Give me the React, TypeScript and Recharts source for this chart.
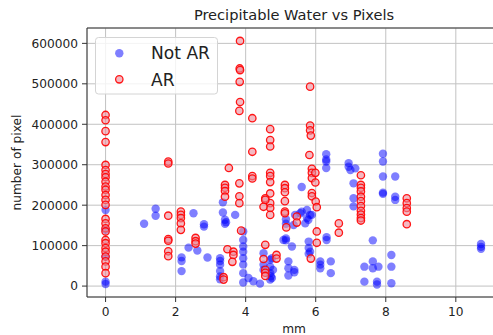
import React from "react";
import {
  ScatterChart,
  Scatter,
  XAxis,
  YAxis,
  CartesianGrid,
  ReferenceLine,
} from "recharts";

// [mm, number of pixel]
const notArPoints: [number, number][] = [
  [0, 188000], [0, 139000], [0, 73000], [0, 11000], [0, 5000],
  [1.1, 154000], [1.43, 191000], [1.43, 174000],
  [2.17, 71000], [2.17, 62000], [2.17, 37000],
  [2.37, 95000], [2.51, 180000], [2.62, 88000], [2.81, 153000], [2.81, 147000], [2.91, 70600],
  [3.27, 69000], [3.27, 62000], [3.27, 53000], [3.27, 37000], [3.27, 24000], [3.27, 17000],
  [3.35, 207000], [3.35, 182000], [3.41, 164000], [3.41, 154000], [3.44, 158000],
  [3.7, 176000],
  [3.93, 135000], [3.93, 114000], [3.93, 98000], [3.93, 85000], [3.93, 69000], [3.93, 53000], [3.93, 32000], [3.93, 9000],
  [4.08, 20000], [4.22, 12000], [4.41, 6000],
  [4.51, 81000], [4.51, 53000], [4.51, 40000],
  [4.7, 65000], [4.7, 48000], [4.7, 32000], [4.72, 24000], [4.7, 16000],
  [4.75, 69000], [4.75, 20000], [4.78, 40000],
  [5.08, 114000],
  [5.15, 165000], [5.15, 154000], [5.15, 118000], [5.15, 113000],
  [5.22, 61000], [5.22, 44000], [5.22, 26000],
  [5.32, 98000], [5.37, 151000], [5.39, 40000], [5.39, 34000],
  [5.6, 245000],
  [5.41, 176000], [5.56, 180000], [5.6, 184000], [5.75, 188000], [5.89, 176000],
  [5.79, 164000], [5.7, 155000], [5.84, 176000], [5.75, 168000],
  [5.8, 110000], [5.8, 94000], [5.84, 85000], [5.8, 80000],
  [6.13, 61000], [6.13, 53000], [6.13, 44000],
  [6.3, 326000], [6.3, 313000], [6.3, 308000], [6.3, 292000],
  [6.31, 121000], [6.31, 114000],
  [6.43, 61000], [6.43, 32000],
  [6.94, 304000], [6.94, 295000], [6.99, 287000], [7.13, 291000],
  [7.08, 254000], [7.08, 217000], [7.08, 197000],
  [7.39, 48000], [7.39, 11000],
  [7.63, 113000], [7.63, 61000], [7.63, 44000],
  [7.75, 11000], [7.75, 4000], [7.79, 48000],
  [7.92, 327000], [7.92, 308000], [7.92, 271000], [7.92, 231000], [7.92, 228000],
  [8.16, 77000], [8.16, 48000], [8.16, 7000],
  [8.27, 271000], [8.27, 221000], [8.27, 213000],
  [10.72, 104000], [10.72, 97000], [10.72, 92000],
];

const arPoints: [number, number][] = [
  [0, 423000], [0, 410000], [0, 383000], [0, 356000], [0, 299500], [0, 287000], [0, 277000],
  [0, 269000], [0, 258000], [0, 246000], [0, 238000], [0, 225000], [0, 213000], [0, 200700],
  [0, 166000], [0, 155000], [0, 143000], [0, 135000], [0, 114000], [0, 106000], [0, 94000],
  [0, 85000], [0, 73000], [0, 61000], [0, 48000], [0, 32000],
  [1.79, 307700], [1.79, 303000], [1.79, 174000], [1.79, 116000], [1.79, 112000], [1.79, 86000], [1.79, 74000],
  [2.15, 184000], [2.15, 176000], [2.15, 168000], [2.15, 155000], [2.15, 139000],
  [2.57, 119000], [2.57, 111000], [2.57, 105000],
  [3.37, 22000], [3.37, 16000],
  [3.41, 250000], [3.41, 243000], [3.41, 235000], [3.41, 221000],
  [3.52, 292000], [3.48, 91000], [3.65, 85000], [3.65, 77000], [3.62, 60000],
  [3.84, 606000], [3.83, 538000], [3.84, 534000], [3.83, 505000], [3.84, 455000], [3.82, 433000],
  [3.82, 254000], [3.82, 222000], [3.82, 205000], [3.87, 137000],
  [4.19, 415000], [4.19, 332000], [4.19, 272000], [4.19, 266000],
  [4.7, 388000], [4.7, 361000], [4.7, 345000], [4.7, 280000], [4.7, 272000], [4.7, 257000],
  [4.7, 229000], [4.7, 205000], [4.7, 193000], [4.7, 176000],
  [4.56, 217000], [4.56, 213000], [4.56, 102000], [4.56, 40000], [4.56, 33000], [4.56, 25000],
  [4.51, 196000], [4.51, 67000],
  [4.88, 77000], [4.88, 68000],
  [5.12, 250000], [5.12, 242000], [5.12, 232000], [5.12, 210000], [5.12, 184000], [5.12, 180000], [5.16, 145000],
  [5.46, 172000], [5.46, 157000],
  [5.84, 493000], [5.84, 397000], [5.84, 385000], [5.86, 372000], [5.82, 324000],
  [5.89, 290000], [5.89, 280000], [5.89, 267000], [5.89, 230000], [5.89, 222000],
  [5.99, 280000], [5.99, 256000], [6.0, 209000],
  [6.03, 195000], [6.03, 135000], [6.03, 107000],
  [5.86, 68000],
  [6.66, 155000], [6.66, 132000],
  [7.29, 274000], [7.29, 250000], [7.29, 243000], [7.29, 234000], [7.29, 221000], [7.29, 210000],
  [7.29, 198000], [7.29, 186000], [7.29, 177000], [7.29, 168000], [7.29, 162000],
  [8.6, 217000], [8.6, 205000], [8.6, 193000], [8.6, 184000], [8.6, 153000],
];

const xTicks = [0, 2, 4, 6, 8, 10];
const yTicks = [0, 100000, 200000, 300000, 400000, 500000, 600000];
const xDomain: [number, number] = [-0.53, 11.29];
const yDomain: [number, number] = [-27000, 638000];

const notAr = notArPoints.map(([x, y]) => ({ x, y }));
const ar = arPoints.map(([x, y]) => ({ x, y }));

const font = "DejaVu Sans";
const textColor = "#222";
const spine = "#333";

const BlueDot = (p: any) => (
  <circle cx={p.cx} cy={p.cy} r={4.2} fill="#0000ff" fillOpacity={0.5} />
);

const RedDot = (p: any) => (
  <circle
    cx={p.cx}
    cy={p.cy}
    r={3.7}
    fill="#eb8a9a"
    fillOpacity={0.6}
    stroke="#ff0000"
    strokeOpacity={0.9}
    strokeWidth={1.3}
  />
);

export default function App() {
  const tick = { fill: textColor, fontSize: 12.2, fontFamily: font };
  return (
    <div
      style={{
        position: "fixed",
        left: 0,
        top: 0,
        width: 493,
        height: 335,
        overflow: "hidden",
        background: "#fff",
      }}
    >
      <ScatterChart
        width={510}
        height={335}
        margin={{ top: 28, right: 9, bottom: 0, left: 0 }}
      >
        <CartesianGrid stroke="#c2c2c2" strokeWidth={1} />
        <XAxis
          type="number"
          dataKey="x"
          domain={xDomain}
          ticks={xTicks}
          height={38}
          tickSize={5}
          tickMargin={5}
          axisLine={{ stroke: spine }}
          tickLine={{ stroke: spine }}
          tick={tick}
          allowDataOverflow
        />
        <YAxis
          type="number"
          dataKey="y"
          domain={yDomain}
          ticks={yTicks}
          width={87}
          tickSize={5}
          tickMargin={4}
          axisLine={{ stroke: spine }}
          tickLine={{ stroke: spine }}
          tick={tick}
          allowDataOverflow
        />
        <ReferenceLine y={yDomain[1]} stroke={spine} />
        <ReferenceLine x={xDomain[1]} stroke={spine} />
        <Scatter data={notAr} shape={BlueDot} isAnimationActive={false} />
        <Scatter data={ar} shape={RedDot} isAnimationActive={false} />
      </ScatterChart>

      <svg
        width={493}
        height={335}
        style={{ position: "absolute", left: 0, top: 0, pointerEvents: "none" }}
      >
        <text x={294} y={20} textAnchor="middle" fontSize={14.6} fontFamily={font} fill={textColor}>
          Precipitable Water vs Pixels
        </text>
        <text x={294} y={333} textAnchor="middle" fontSize={12.2} fontFamily={font} fill={textColor}>
          mm
        </text>
        <text
          x={20.5}
          y={162.5}
          textAnchor="middle"
          fontSize={12.2}
          fontFamily={font}
          fill={textColor}
          transform="rotate(-90 20.5 162.5)"
        >
          number of pixel
        </text>

        <rect x={95.5} y={37.5} width={122} height={56.5} rx={3} fill="#fff" fillOpacity={0.8} stroke="#d4d4d4" />
        <circle cx={119.3} cy={53.3} r={4.2} fill="#0000ff" fillOpacity={0.5} />
        <circle cx={119.3} cy={79.3} r={3.7} fill="#eb8a9a" fillOpacity={0.6} stroke="#ff0000" strokeOpacity={0.9} strokeWidth={1.3} />
        <text x={151} y={59} fontSize={17.1} fontFamily={font} fill={textColor}>
          Not AR
        </text>
        <text x={151} y={85.5} fontSize={17.1} fontFamily={font} fill={textColor}>
          AR
        </text>
      </svg>
    </div>
  );
}
